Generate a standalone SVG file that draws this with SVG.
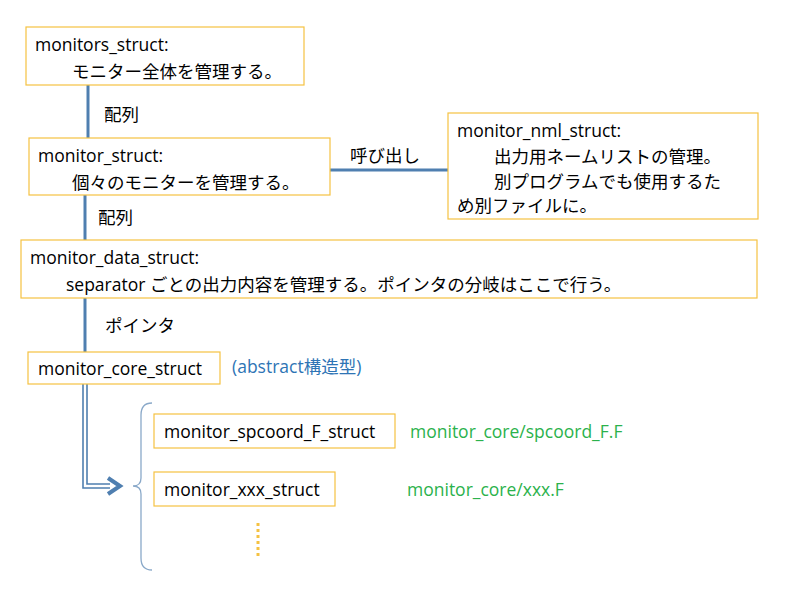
<svg xmlns="http://www.w3.org/2000/svg" width="792" height="600" viewBox="0 0 792 600">
<style>
.box{fill:#fff;stroke:#f5c242;stroke-width:1.2}
text{font-family:"Open Sans","Noto Sans CJK JP",sans-serif;font-size:17.5px;fill:#000}
.l{stroke:#4f7fb0;stroke-width:3;fill:none}
.g{fill:#2bb24c}
.b{fill:#2e74b5}
</style>
<rect width="792" height="600" fill="#fff"/>
<g id="connectors">
<line class="l" x1="88" y1="85" x2="88" y2="138"/>
<line class="l" x1="85" y1="195" x2="85" y2="240"/>
<line class="l" x1="330" y1="170" x2="448" y2="170"/>
<line class="l" x1="85" y1="298" x2="85" y2="352"/>
<path d="M83 384V488H110M87 384V484H110" stroke="#4f7fb0" stroke-width="1.6" fill="none"/>
<path d="M108 478L120 486L108 494" stroke="#4f7fb0" stroke-width="4" fill="none"/>
<path d="M152 403Q141 403 141 415V478Q141 486 133 486Q141 486 141 494V558Q141 570 152 570" stroke="#8aa9c9" stroke-width="1.3" fill="none"/>
<line x1="258" y1="523" x2="258" y2="556" stroke="#f5c242" stroke-width="3" stroke-dasharray="3,3"/>
<text x="104" y="121">配列</text>
<text x="98" y="224">配列</text>
<text x="350" y="162">呼び出し</text>
<text x="105" y="332">ポインタ</text>
</g>
<g id="monitors_struct"><rect class="box" x="26" y="27" width="278" height="58"/>
<text x="35" y="51">monitors_struct:</text><text x="72" y="78">モニター全体を管理する。</text></g>
<g id="monitor_struct"><rect class="box" x="29" y="138" width="301" height="57"/>
<text x="38" y="162">monitor_struct:</text><text x="72" y="189">個々のモニターを管理する。</text></g>
<g id="monitor_nml_struct"><rect class="box" x="448" y="113" width="310" height="106"/>
<text x="457" y="137">monitor_nml_struct:</text><text x="494" y="163">出力用ネームリストの管理。</text>
<text x="494" y="188">別プログラムでも使用するた</text><text x="457" y="212">め別ファイルに。</text></g>
<g id="monitor_data_struct"><rect class="box" x="21" y="240" width="736" height="58"/>
<text x="30" y="264">monitor_data_struct:</text><text x="66" y="291">separator ごとの出力内容を管理する。ポインタの分岐はここで行う。</text></g>
<g id="monitor_core_struct"><rect class="box" x="28" y="352" width="192" height="32"/>
<text x="38" y="375">monitor_core_struct</text><text class="b" x="232" y="373">(abstract構造型)</text></g>
<g id="monitor_spcoord_F_struct"><rect class="box" x="154" y="414" width="241" height="34"/>
<text x="164" y="438">monitor_spcoord_F_struct</text><text class="g" x="410" y="438">monitor_core/spcoord_F.F</text></g>
<g id="monitor_xxx_struct"><rect class="box" x="154" y="472" width="181" height="34"/>
<text x="164" y="496">monitor_xxx_struct</text><text class="g" x="407" y="496">monitor_core/xxx.F</text></g>
</svg>
